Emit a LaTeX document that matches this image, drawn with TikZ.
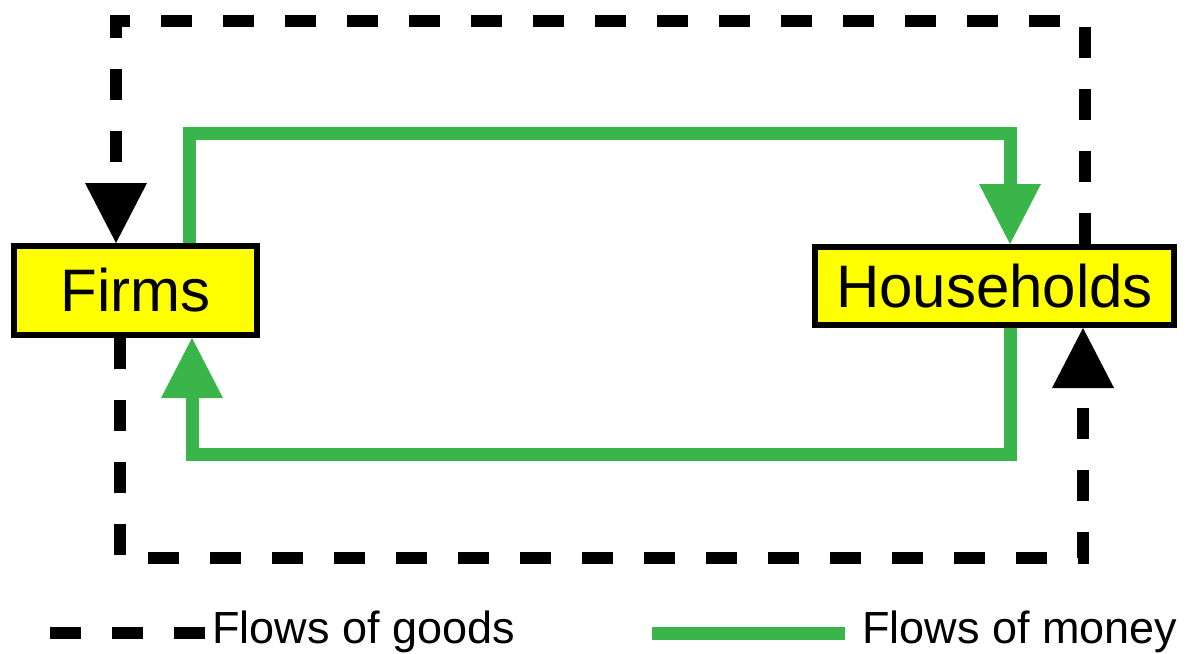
\documentclass[tikz,border=0pt]{standalone}
\usepackage{fontspec}
\setmainfont{Liberation Sans}
\usepackage{tikz}
\usetikzlibrary{positioning}
\usetikzlibrary{arrows.meta}
\usepackage{xcolor}
\definecolor{moneygreen}{RGB}{57,181,74}
\definecolor{agentyellow}{RGB}{255,255,0}

\begin{document}
\begin{tikzpicture}[x=0.5pt, y=-0.5pt,
  agent/.style={draw=black, fill=agentyellow, line width=3pt, inner sep=0pt, font=\fontsize{30}{36}\selectfont},
  goods/.style={black, line width=6pt, dash pattern=on 15.5pt off 15.5pt},
  money/.style={moneygreen, line width=6.5pt},
  tip/.style={-{Triangle[width=31pt,length=30pt,line width=0pt]}},
  legend/.style={inner sep=0pt, anchor=base west, font=\fontsize{22.5}{27}\selectfont}]

\useasboundingbox (0,0) rectangle (1192,653);

% the two agents
\node[agent, minimum width=121.5pt, minimum height=44.5pt] (firms) at (135.5,290.5) {Firms};
\node[agent, minimum width=179.5pt, minimum height=39pt] (households) at (994.5,286) {Households};

% corners of the flows
\coordinate (gtl) at (116,21);
\coordinate (gtr) at (1085,21);
\coordinate (gbl) at (120,558);
\coordinate (gbr) at (1083,558);
\coordinate (mtl) at (189,133);
\coordinate (mtr) at (1010,133);
\coordinate (mbl) at (192,454);
\coordinate (mbr) at (1010,454);

% goods
\draw[goods, tip] (households.north -| gtr) |- (gtl) -- (gtl |- firms.north);
\draw[goods, tip] (firms.south -| gbl) |- (gbr) -- (gbr |- households.south);

% money
\draw[money, tip] (firms.north -| mtl) |- (mtr) -- (mtr |- households.north);
\draw[money, tip] (households.south -| mbr) |- (mbl) -- (mbl |- firms.south);

% legend
\node[legend] (goodslbl) at (212,643) {Flows of goods};
\node[legend] (moneylbl) at (862,643) {Flows of money};
\coordinate (goodsstart) at (50,633);
\coordinate (moneystart) at (652,633);
\draw[goods] (goodsstart) -- (goodsstart -| goodslbl.west);
\draw[money] (moneystart) -- ([xshift=-17*0.5pt]moneystart -| moneylbl.west);

\end{tikzpicture}
\end{document}
